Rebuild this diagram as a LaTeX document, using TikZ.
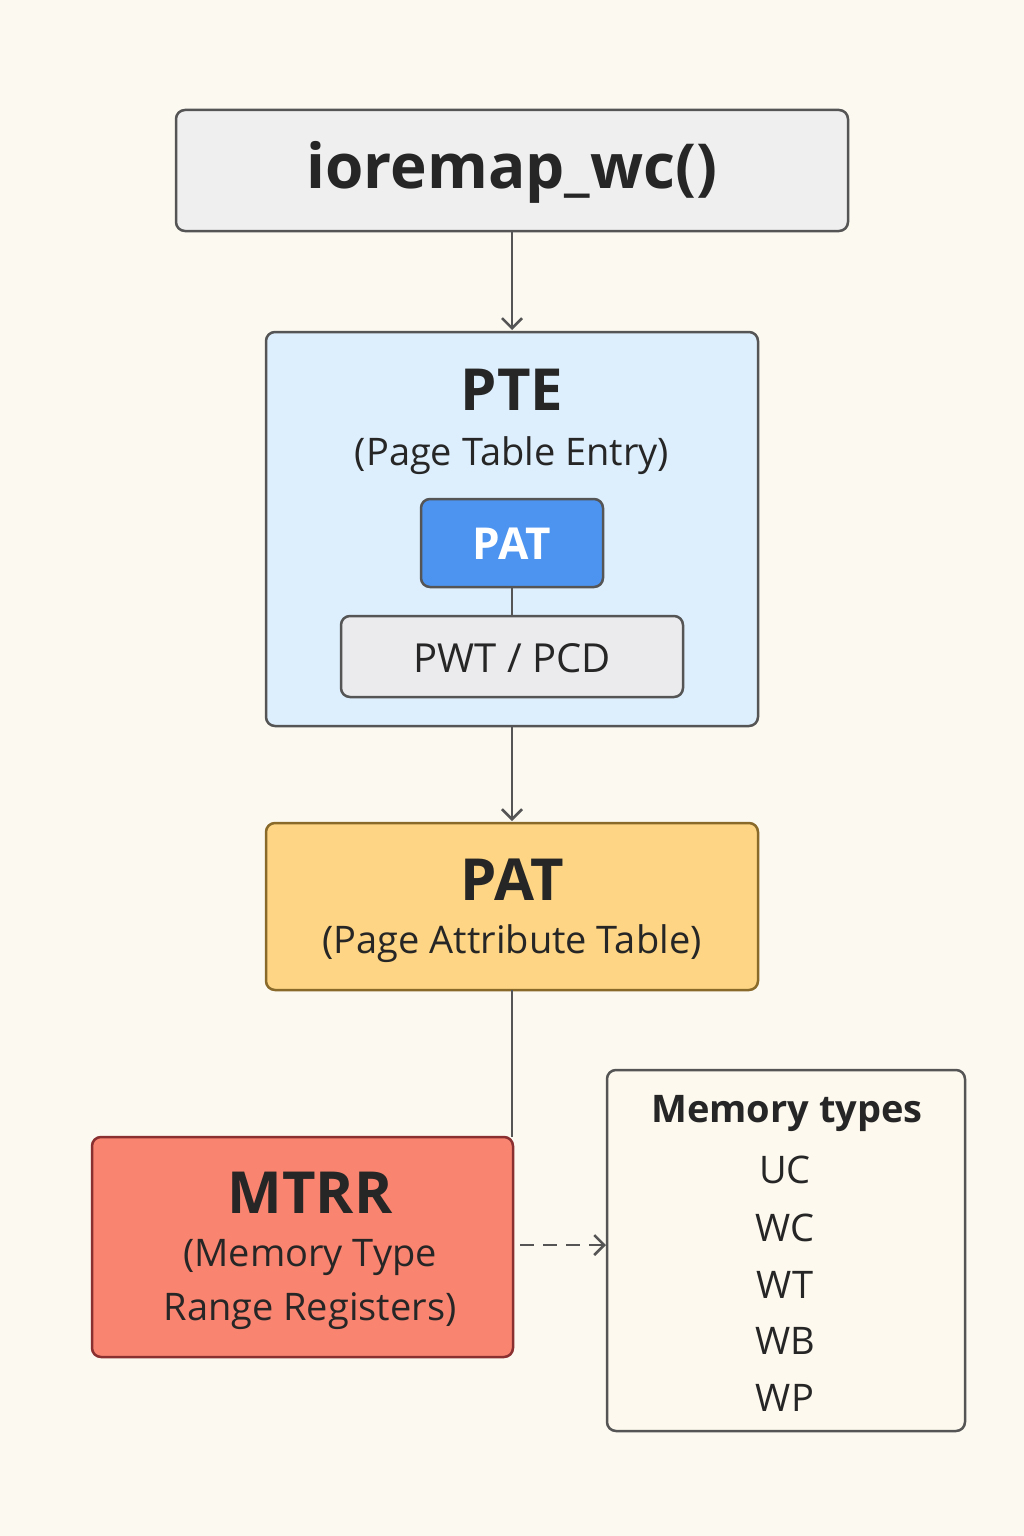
\documentclass[tikz,border=0pt]{standalone}
\usepackage{fontspec}
\setmainfont{Open Sans}
\usetikzlibrary{arrows.meta}
\definecolor{bg}{HTML}{FCF9F0}
\definecolor{edge}{HTML}{555555}
\definecolor{ioF}{HTML}{EFEFF0}
\definecolor{pteF}{HTML}{DDEFFC}
\definecolor{patbF}{HTML}{4C94F0}
\definecolor{pwtF}{HTML}{EBEBEE}
\definecolor{patD}{HTML}{8A6A2A}
\definecolor{patF}{HTML}{FDD584}
\definecolor{mD}{HTML}{8A3030}
\definecolor{mF}{HTML}{F98470}
\definecolor{memF}{HTML}{FDF9EE}
\tikzset{
 box/.style={draw=edge,line width=2.5pt,rounded corners=9pt},
 arr/.style={draw=edge,line width=2.5pt,-{Straight Barb[length=10pt,width=20pt,line width=2.5pt]}},
 lin/.style={draw=edge,line width=2.5pt},
 txt/.style={text=black!85,inner sep=0pt,anchor=center}
}
\begin{document}
\begin{tikzpicture}[x=1pt,y=-1pt]
\fill[bg] (0,0) rectangle (1024,1536);
\useasboundingbox (0,0) rectangle (1024,1536);
% ioremap
\draw[box,fill=ioF] (176,110) rectangle (848,231);
\node[txt,font=\fontsize{62}{70}\selectfont\bfseries] (io) at (512,172) {ioremap\_wc()};
\coordinate (ioB) at (512,231);
% PTE
\draw[box,fill=pteF] (266,332) rectangle (758,726);
\coordinate (pteT) at (512,330);
\coordinate (pteB) at (512,726);
\node[txt,font=\fontsize{58}{64}\selectfont\bfseries] (pte) at (512,390) {PTE};
\node[txt,font=\fontsize{38}{44}\selectfont] (ptes) at (512,456) {(Page Table Entry)};
\draw[box,fill=patbF] (421,499) rectangle (603,587);
\node[txt,text=white,font=\fontsize{44}{50}\selectfont\bfseries] (pat1) at (512,544) {PAT};
\draw[box,fill=pwtF] (341,616) rectangle (683,697);
\node[txt,font=\fontsize{40}{46}\selectfont] (pwt) at (512,658) {PWT / PCD};
\coordinate (patB) at (512,587);
\coordinate (pwtT) at (512,616);
\draw[lin] (patB) -- (pwtT);
% PAT table
\draw[box,draw=patD,fill=patF] (266,823) rectangle (758,990);
\node[txt,font=\fontsize{58}{64}\selectfont\bfseries] (pat) at (512,880) {PAT};
\node[txt,font=\fontsize{38}{44}\selectfont] (pats) at (512,944) {(Page Attribute Table)};
\coordinate (patT) at (512,821);
\coordinate (patTB) at (512,990);
% MTRR
\draw[box,draw=mD,fill=mF] (92,1137) rectangle (513,1357);
\node[txt,font=\fontsize{58}{64}\selectfont\bfseries] (mtrr) at (310,1193) {MTRR};
\node[txt,font=\fontsize{38}{44}\selectfont] (m1) at (310,1257) {(Memory Type};
\node[txt,font=\fontsize{38}{44}\selectfont] (m2) at (310,1311) {Range Registers)};
\coordinate (mT) at (512,1137);
\coordinate (mR) at (520,1245);
% Memory types
\draw[box,fill=memF] (607,1070) rectangle (965,1431);
\coordinate (memL) at (606,1245);
\node[txt,font=\fontsize{38}{44}\selectfont\bfseries] (mt) at (787,1113) {Memory types};
\node[txt,font=\fontsize{38}{44}\selectfont] (uc) at (785,1170) {UC};
\node[txt,font=\fontsize{38}{44}\selectfont] (wc) at (785,1228) {WC};
\node[txt,font=\fontsize{38}{44}\selectfont] (wt) at (785,1285) {WT};
\node[txt,font=\fontsize{38}{44}\selectfont] (wb) at (785,1341) {WB};
\node[txt,font=\fontsize{38}{44}\selectfont] (wp) at (785,1398) {WP};
% connectors
\draw[arr] (ioB) -- (pteT);
\draw[arr] (pteB) -- (patT);
\draw[lin] (patTB) -- (mT);
\draw[arr,dashed,dash pattern=on 14pt off 9pt] (mR) -- (memL);
\end{tikzpicture}
\end{document}
